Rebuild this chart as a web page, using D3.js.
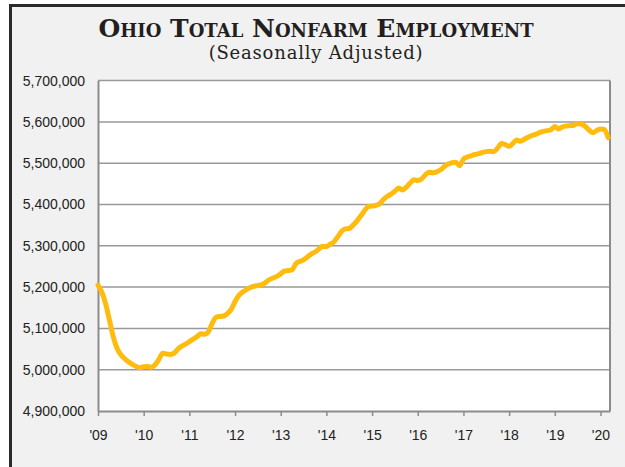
<!DOCTYPE html>
<html>
<head>
<meta charset="utf-8">
<script src="https://cdn.jsdelivr.net/npm/d3@7"></script>
<style>
  body { margin: 0; background: #fff; }
  svg { display: block; }
  .ylab, .xlab { font-family: "Liberation Sans", Arial, sans-serif; font-size: 14px; fill: #222; }
  .title { font-family: "DejaVu Serif", serif; font-weight: bold; font-size: 25px; font-variant: small-caps; fill: #231f20; }
  .subtitle { font-family: "DejaVu Serif", serif; font-size: 18px; letter-spacing: 0.8px; fill: #231f20; }
</style>
</head>
<body>
<svg id="chart" width="625" height="467"></svg>
<script>
// Ohio total nonfarm employment, seasonally adjusted, monthly from Jan 2009
const employment = [
	5205000, 5188000, 5160000, 5120000, 5080000, 5052000, 5036000, 5027000, 5019000, 5013000, 5008000, 5005000,
	5007000, 5008000, 5006000, 5012000, 5025000, 5040000, 5038000, 5037000, 5040000, 5050000, 5057000, 5062000,
	5068000, 5074000, 5080000, 5087000, 5086000, 5092000, 5112000, 5127000, 5129000, 5130000, 5136000, 5146000,
	5165000, 5180000, 5188000, 5194000, 5199000, 5202000, 5204000, 5206000, 5211000, 5218000, 5222000, 5226000,
	5232000, 5239000, 5240000, 5242000, 5257000, 5262000, 5266000, 5273000, 5280000, 5285000, 5292000, 5299000,
	5298000, 5304000, 5310000, 5322000, 5335000, 5341000, 5342000, 5350000, 5360000, 5372000, 5385000, 5395000,
	5396000, 5398000, 5402000, 5412000, 5420000, 5425000, 5432000, 5440000, 5435000, 5442000, 5452000, 5460000,
	5458000, 5462000, 5472000, 5478000, 5477000, 5479000, 5484000, 5492000, 5498000, 5501000, 5502000, 5494000,
	5510000, 5515000, 5518000, 5521000, 5523000, 5526000, 5528000, 5529000, 5528000, 5537000, 5548000, 5545000,
	5541000, 5548000, 5556000, 5553000, 5558000, 5563000, 5567000, 5570000, 5574000, 5577000, 5579000, 5581000,
	5589000, 5583000, 5588000, 5590000, 5591000, 5592000, 5596000, 5595000, 5589000, 5580000, 5574000, 5579000,
	5583000, 5582000, 5562000
];
const yTicks = [4900000, 5000000, 5100000, 5200000, 5300000, 5400000, 5500000, 5600000, 5700000];
const yearTicks = ["'09", "'10", "'11", "'12", "'13", "'14", "'15", "'16", "'17", "'18", "'19", "'20"];

const svg = d3.select("#chart");
const W = 625, H = 467;
const plot = { left: 98, right: 610, top: 80.6, bottom: 411 };

// outer panel
svg.append("rect")
	.attr("x", 10.5).attr("y", 5.5)
	.attr("width", W).attr("height", H)
	.attr("fill", "#f1f1f1")
	.attr("stroke", "#2b2b2b")
	.attr("stroke-width", 3);

// titles
svg.append("text")
	.attr("class", "title")
	.attr("x", 316).attr("y", 36.5)
	.attr("text-anchor", "middle")
	.text("Ohio Total Nonfarm Employment");
svg.append("text")
	.attr("class", "subtitle")
	.attr("x", 316).attr("y", 58.5)
	.attr("text-anchor", "middle")
	.text("(Seasonally Adjusted)");

const x = d3.scaleLinear()
	.domain([0, 134.5])
	.range([plot.left, plot.right]);
const y = d3.scaleLinear()
	.domain([4900000, 5700000])
	.range([plot.bottom, plot.top]);

svg.append("rect")
	.attr("x", plot.left).attr("y", plot.top)
	.attr("width", plot.right - plot.left)
	.attr("height", plot.bottom - plot.top)
	.attr("fill", "#fff");

// horizontal grid
svg.append("g")
	.selectAll("line")
	.data(yTicks.slice(1))
	.join("line")
	.attr("x1", plot.left).attr("x2", plot.right)
	.attr("y1", d => y(d)).attr("y2", d => y(d))
	.attr("stroke", "#999")
	.attr("stroke-width", 1.5);

// right frame
svg.append("line")
	.attr("x1", plot.right).attr("x2", plot.right)
	.attr("y1", plot.top).attr("y2", plot.bottom)
	.attr("stroke", "#8c8c8c").attr("stroke-width", 2);

// y axis
const yAxis = svg.append("g")
	.attr("transform", `translate(${plot.left},0)`)
	.call(d3.axisLeft(y).tickValues(yTicks).tickSize(0).tickPadding(13).tickFormat(d3.format(",")));
yAxis.select(".domain").attr("stroke", "#8c8c8c").attr("stroke-width", 2);
yAxis.selectAll("text").attr("class", "ylab").attr("fill", null);

// x axis
const xAxis = svg.append("g")
	.attr("transform", `translate(0,${plot.bottom})`)
	.call(d3.axisBottom(x)
		.tickValues(yearTicks.map((d, i) => i * 12))
		.tickSizeInner(5).tickSizeOuter(0).tickPadding(14)
		.tickFormat((d, i) => yearTicks[i]));
xAxis.select(".domain").attr("stroke", "#8c8c8c").attr("stroke-width", 2);
xAxis.selectAll(".tick line").attr("stroke", "#8c8c8c").attr("stroke-width", 1.5);
xAxis.selectAll("text").attr("class", "xlab").attr("fill", null);

// employment line
const line = d3.line()
	.x((d, i) => x(i))
	.y(d => y(d))
	.curve(d3.curveMonotoneX);

svg.append("path")
	.datum(employment)
	.attr("d", line)
	.attr("fill", "none")
	.attr("stroke", "#ffbc0f")
	.attr("stroke-width", 5)
	.attr("stroke-linejoin", "round")
	.attr("stroke-linecap", "round");
</script>
</body>
</html>
